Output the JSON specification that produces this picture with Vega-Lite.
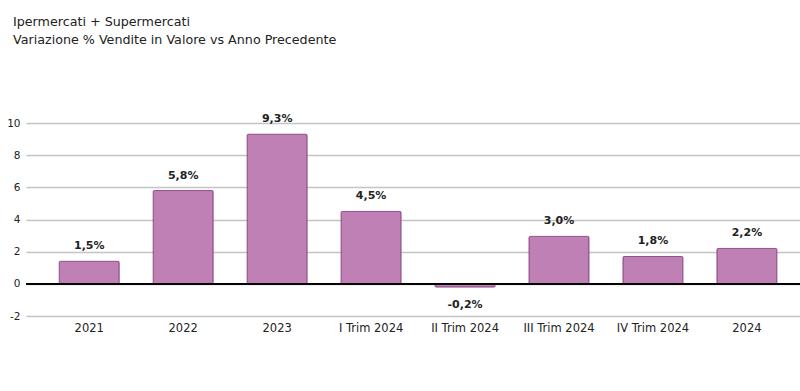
{
  "$schema": "https://vega.github.io/schema/vega-lite/v6.json",
  "width": 774,
  "height": 193,
  "autosize": {"type": "none"},
  "padding": {"left": 26, "top": 123, "right": 0, "bottom": 75},
  "background": "white",
  "title": {
    "text": ["Ipermercati + Supermercati", "Variazione % Vendite in Valore vs Anno Precedente"],
    "anchor": "start",
    "frame": "group",
    "dx": -13,
    "offset": 67,
    "font": "DejaVu Sans",
    "fontSize": 12.7,
    "fontWeight": "normal",
    "color": "#222222",
    "lineHeight": 18,
    "baseline": "top"
  },
  "config": {
    "view": {"stroke": null},
    "font": "DejaVu Sans"
  },
  "data": {
    "values": [
      {"periodo": "2021", "v": 1.4, "label": "1,5%"},
      {"periodo": "2022", "v": 5.8, "label": "5,8%"},
      {"periodo": "2023", "v": 9.3, "label": "9,3%"},
      {"periodo": "I Trim 2024", "v": 4.5, "label": "4,5%"},
      {"periodo": "II Trim 2024", "v": -0.2, "label": "-0,2%"},
      {"periodo": "III Trim 2024", "v": 2.95, "label": "3,0%"},
      {"periodo": "IV Trim 2024", "v": 1.7, "label": "1,8%"},
      {"periodo": "2024", "v": 2.2, "label": "2,2%"}
    ]
  },
  "encoding": {
    "x": {
      "field": "periodo",
      "type": "nominal",
      "sort": null,
      "scale": {"paddingInner": 0.362, "paddingOuter": 0.3, "align": 0.59},
      "axis": {
        "title": null,
        "labelAngle": 0,
        "domain": false,
        "ticks": false,
        "labelFont": "DejaVu Sans",
        "labelFontSize": 11.5,
        "labelColor": "#222222",
        "labelPadding": 6,
        "grid": false
      }
    },
    "y": {
      "field": "v",
      "type": "quantitative",
      "scale": {"domain": [-2, 10], "nice": false},
      "axis": {
        "title": null,
        "values": [-2, 0, 2, 4, 6, 8, 10],
        "labelExpr": "'' + datum.value",
        "labelOverlap": false,
        "labelFlush": false,
        "domain": false,
        "ticks": false,
        "labelFont": "DejaVu Sans",
        "labelFontSize": 10.5,
        "labelColor": "#222222",
        "labelPadding": 6,
        "gridColor": "#c4c4c4",
        "gridWidth": 1.5
      }
    }
  },
  "layer": [
    {
      "mark": {"type": "bar", "color": "#bf80b6", "stroke": "#93508a", "strokeWidth": 1, "cornerRadius": 1}
    },
    {
      "transform": [{"filter": "datum.v >= 0"}],
      "mark": {"type": "text", "font": "DejaVu Sans", "fontSize": 11, "fontWeight": "bold", "color": "#222222", "baseline": "bottom", "dy": -10},
      "encoding": {
        "text": {"field": "label"}
      }
    },
    {
      "transform": [{"filter": "datum.v < 0"}],
      "mark": {"type": "text", "font": "DejaVu Sans", "fontSize": 11, "fontWeight": "bold", "color": "#222222", "baseline": "top", "dy": 12},
      "encoding": {
        "text": {"field": "label"}
      }
    },
    {
      "mark": {"type": "rule", "color": "#000000", "strokeWidth": 1},
      "encoding": {"y": {"datum": 0, "type": "quantitative"}, "x": {"value": 0}, "x2": {"value": 774}}
    }
  ]
}
